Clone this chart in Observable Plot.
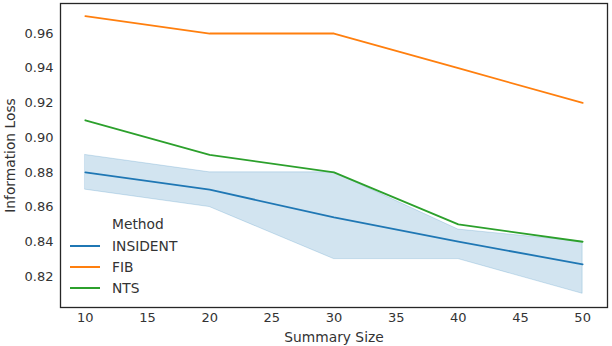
<!DOCTYPE html>
<html><head><meta charset="utf-8">
<script src="https://cdn.jsdelivr.net/npm/d3@7"></script>
<script src="https://cdn.jsdelivr.net/npm/@observablehq/plot@0.6"></script>
<style>
body{margin:0;background:#fff;}
#wrap{position:relative;width:612px;height:346px;font-family:"DejaVu Sans",sans-serif;}
#legend{position:absolute;left:68px;top:214px;font-size:13.8px;color:#333;}
#legend .t{margin-left:44px;height:21px;line-height:21px;}
#legend .r{display:flex;align-items:center;height:21px;}
#legend .sw{width:30px;height:2px;margin-right:12px;margin-left:2px;}
</style></head>
<body><div id="wrap"><div id="chart"></div><div id="legend"></div></div>
<script>
const sizes = [10, 20, 30, 40, 50];
const methods = ["INSIDENT", "FIB", "NTS"];
const colors = ["#1f77b4", "#ff7f0e", "#2ca02c"];
const insident = [0.880, 0.870, 0.854, 0.840, 0.827];
const insidentLow = [0.870, 0.860, 0.830, 0.830, 0.810];
const insidentHigh = [0.890, 0.880, 0.880, 0.847, 0.840];
const fib = [0.970, 0.960, 0.960, 0.940, 0.920];
const nts = [0.910, 0.890, 0.880, 0.850, 0.840];
const xTicks = [10, 15, 20, 25, 30, 35, 40, 45, 50];
const yTicks = [0.82, 0.84, 0.86, 0.88, 0.90, 0.92, 0.94, 0.96];

const series = [insident, fib, nts];
const rows = [];
methods.forEach((m, i) => sizes.forEach((s, j) => rows.push({method: m, size: s, value: series[i][j]})));
const band = sizes.map((s, j) => ({size: s, lo: insidentLow[j], hi: insidentHigh[j]}));

const plot = Plot.plot({
  width: 612, height: 346,
  marginLeft: 60, marginTop: 3, marginRight: 5, marginBottom: 39,
  style: {fontFamily: "DejaVu Sans, sans-serif", fontSize: "13px", color: "#333", background: "#fff"},
  x: {domain: [8, 52], label: null},
  y: {domain: [0.8021, 0.9773], label: null},
  color: {domain: methods, range: colors},
  marks: [
    Plot.areaY(band, {x: "size", y1: "lo", y2: "hi", fill: colors[0], fillOpacity: 0.2, stroke: colors[0], strokeOpacity: 0.2, strokeWidth: 1}),
    Plot.line(rows, {x: "size", y: "value", stroke: "method", strokeWidth: 1.8}),
    Plot.axisX({ticks: xTicks, tickSize: 0, tickPadding: 5, tickFormat: d => d, label: null}),
    Plot.axisX({ticks: [], label: "Summary Size", labelAnchor: "center", labelOffset: 34, labelArrow: "none", fontSize: 13.8}),
    Plot.axisY({ticks: yTicks, tickSize: 0, tickPadding: 7, tickFormat: d3.format(".2f"), label: null}),
    Plot.axisY({ticks: [], label: "Information Loss", labelAnchor: "center", labelOffset: 55, labelArrow: "none", fontSize: 13.8}),
    Plot.frame({stroke: "#262626", strokeWidth: 1.3})
  ]
});
document.getElementById("chart").appendChild(plot);

const lg = document.getElementById("legend");
lg.innerHTML = '<div class="t">Method</div>' + methods.map((m, i) =>
  `<div class="r"><div class="sw" style="background:${colors[i]}"></div><span>${m}</span></div>`).join("");
</script>
</body></html>
